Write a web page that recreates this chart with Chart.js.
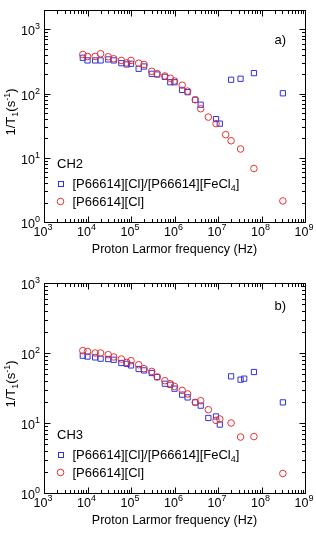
<!DOCTYPE html>
<html>
<head>
<meta charset="utf-8">
<script src="https://cdn.jsdelivr.net/npm/chart.js@4.4.1/dist/chart.umd.min.js"></script>
<style>
  html, body { margin: 0; padding: 0; background: #fff; }
  #wrap { position: relative; width: 316px; height: 537px; }
  canvas { position: absolute; left: 0; }
</style>
</head>
<body>
<div id="wrap">
  <canvas id="chartA" width="316" height="268" style="top:0"></canvas>
  <canvas id="chartB" width="316" height="269" style="top:268px"></canvas>
</div>
<script>
// Panel a) CH2
const freqMixCH2 = [7.8e3, 1e4, 1.5e4, 2e4, 3e4, 4e4, 6e4, 8e4, 1e5, 1.5e5, 2e5, 3e5, 4e5, 6e5, 8e5, 1e6, 1.5e6, 2e6, 3e6, 4e6, 9e6, 1.1e7, 2e7, 3.3e7, 6.7e7, 3.1e8]
const r1MixCH2 = [361, 328, 328, 328, 340, 328, 297, 284, 291, 243, 264, 203, 198, 182, 150, 150, 114, 105, 80, 67, 40, 34, 164, 170, 208, 101]
const freqClCH2 = [7.8e3, 1e4, 1.5e4, 2e4, 3e4, 4e4, 6e4, 8e4, 1e5, 1.5e5, 2e5, 3e5, 4e5, 6e5, 8e5, 1e6, 1.5e6, 2e6, 3e6, 4e6, 6e6, 9e6, 1.5e7, 2e7, 3.3e7, 6.7e7, 3.1e8]
const r1ClCH2 = [406, 378, 378, 417, 374, 348, 328, 300, 328, 297, 284, 222, 205, 188, 173, 157, 135, 109, 80, 58, 43, 34, 22.9, 18.4, 13.7, 6.8, 2.13]

// Panel b) CH3
const freqMixCH3 = [7.8e3, 1e4, 1.5e4, 2e4, 3e4, 4e4, 6e4, 8e4, 1e5, 1.5e5, 2e5, 3e5, 4e5, 6e5, 8e5, 1e6, 1.5e6, 2e6, 3e6, 4e6, 6e6, 9e6, 1.1e7, 2e7, 3.3e7, 4e7, 6.7e7, 3.1e8]
const r1MixCH3 = [91.5, 89, 86.5, 83, 82, 80, 72, 70, 66.5, 59, 56.4, 51.8, 45.4, 36.4, 35.2, 30.9, 25.4, 23.2, 19.7, 17.7, 11.8, 12.4, 9.5, 46.4, 41.6, 43, 53.5, 19.7]
const freqClCH3 = [7.8e3, 1e4, 1.5e4, 2e4, 3e4, 4e4, 6e4, 8e4, 1e5, 1.5e5, 2e5, 3e5, 4e5, 6e5, 8e5, 1e6, 1.5e6, 2e6, 3e6, 4e6, 6e6, 9e6, 1.1e7, 2e7, 3.3e7, 6.7e7, 3.1e8]
const r1ClCH3 = [108, 105, 100, 100, 94.6, 87.7, 82, 73.4, 77.6, 68, 59.7, 54.6, 45.4, 40.2, 36.4, 33.3, 29.2, 26, 19.7, 20.8, 15.5, 10.9, 11.4, 10, 6.3, 6.4, 1.9]

const xRange = [1e3, 1e9]
const seriesNames = ['[P66614][Cl]/[P66614][FeCl4]', '[P66614][Cl]']

const FONT = '"Liberation Sans", Arial, Helvetica, sans-serif'
const BLUE = '#3232dc'
const RED = '#e63232'

/**
 * Draw text made of parts with own size and vertical shift (sub/superscripts).
 */
function richText (ctx, parts, x, y, align) {
  let w = 0
  parts.forEach(p => { ctx.font = `${p[1]}px ${FONT}`; w += ctx.measureText(p[0]).width })
  let cx = align === 'center' ? x - w / 2 : align === 'right' ? x - w : x
  parts.forEach(p => {
    ctx.font = `${p[1]}px ${FONT}`
    ctx.fillText(p[0], cx, y + (p[2] || 0))
    cx += ctx.measureText(p[0]).width
  })
}

function logTicks (min, max) {
  const out = []
  for (let e = Math.floor(Math.log10(min)); e <= Math.ceil(Math.log10(max)); e++) {
    for (let m = 1; m <= 9; m++) {
      const v = m * Math.pow(10, e)
      if (v >= min * 0.999 && v <= max * 1.001) out.push({ v, major: m === 1, e })
    }
  }
  return out
}

// frame, inward ticks, labels and legend
const framePlugin = {
  id: 'frame',
  afterDraw (chart, args, opts) {
    const { ctx, chartArea: a, scales: { x, y } } = chart
    const L = Math.round(a.left) + 0.5
    const R = Math.round(a.right) + 0.5
    const T = Math.round(a.top) + 0.5
    const B = Math.round(a.bottom) + 0.5
    ctx.save()
    ctx.strokeStyle = '#000'
    ctx.fillStyle = '#000'
    ctx.lineWidth = 1
    ctx.strokeRect(L, T, R - L, B - T)

    ctx.beginPath()
    logTicks(x.min, x.max).forEach(t => {
      const px = Math.round(x.getPixelForValue(t.v)) + 0.5
      const len = t.major ? 6 : 3.5
      ctx.moveTo(px, B); ctx.lineTo(px, B - len)
      ctx.moveTo(px, T); ctx.lineTo(px, T + len)
    })
    logTicks(y.min, y.max).forEach(t => {
      const py = Math.round(y.getPixelForValue(t.v)) + 0.5
      const len = t.major ? 6 : 3.5
      ctx.moveTo(L, py); ctx.lineTo(L + len, py)
      ctx.moveTo(R, py); ctx.lineTo(R - len, py)
    })
    ctx.stroke()

    ctx.textBaseline = 'alphabetic'
    logTicks(x.min, x.max).filter(t => t.major).forEach(t => {
      richText(ctx, [['10', 12.5], [String(t.e), 9, -6]], x.getPixelForValue(t.v) - 1, a.bottom + 13.5, 'center')
    })
    logTicks(y.min, y.max).filter(t => t.major).forEach(t => {
      richText(ctx, [['10', 12.5], [String(t.e), 9, -6]], a.left - 4, y.getPixelForValue(t.v) + 6, 'right')
    })

    // axis titles
    richText(ctx, [['Proton Larmor frequency (Hz)', 12.5]], (a.left + a.right) / 2, a.bottom + 30.5, 'center')
    ctx.save()
    ctx.translate(15, (a.top + a.bottom) / 2 - 4)
    ctx.rotate(-Math.PI / 2)
    richText(ctx, [['1/T', 13], ['1', 9, 3], ['(s', 13], ['-1', 9, -5.5], [')', 13]], 0, 0, 'center')
    ctx.restore()

    // panel tag
    richText(ctx, [[opts.tag, 13]], a.right - 19, a.top + opts.tagY, 'right')

    // legend
    richText(ctx, [[opts.group, 13]], a.left + 13, a.bottom - 54.5)
    const sx = a.left + 16.5
    const y1 = a.bottom - 38.5
    const y2 = a.bottom - 20.5
    ctx.strokeStyle = BLUE
    ctx.strokeRect(Math.round(sx - 2.5) + 0.5, Math.round(y1 - 2.5) + 0.5, 5, 5)
    ctx.strokeStyle = RED
    ctx.beginPath()
    ctx.arc(sx, y2, 3.3, 0, Math.PI * 2)
    ctx.stroke()
    ctx.fillStyle = '#000'
    richText(ctx, [['[P66614][Cl]/[P66614][FeCl', 13], ['4', 9, 3], [']', 13]], a.left + 28.5, y1 + 4.5)
    richText(ctx, [[seriesNames[1], 13]], a.left + 28.5, y2 + 4.5)
    ctx.restore()
  }
}

function toPoints (xs, ys) {
  return xs.map((v, i) => ({ x: v, y: ys[i] }))
}

function makeChart (id, mixF, mixV, clF, clV, yMax, padding, group, tag, tagY) {
  const ctx = document.getElementById(id).getContext('2d')
  return new Chart(ctx, {
    type: 'scatter',
    data: {
      datasets: [{
        label: seriesNames[1],
        data: toPoints(clF, clV),
        pointStyle: 'circle',
        pointRadius: 3.3,
        pointBorderWidth: 1,
        borderColor: RED,
        backgroundColor: 'rgba(0,0,0,0)'
      },
      {
        label: seriesNames[0],
        data: toPoints(mixF, mixV),
        pointStyle: 'rect',
        pointRadius: 3.7,
        pointBorderWidth: 1,
        borderColor: BLUE,
        backgroundColor: 'rgba(0,0,0,0)'
      }]
    },
    options: {
      responsive: false,
      animation: false,
      layout: { padding },
      scales: {
        x: { type: 'logarithmic', min: xRange[0], max: xRange[1], display: false },
        y: { type: 'logarithmic', min: 1, max: yMax, display: false }
      },
      plugins: {
        legend: { display: false },
        tooltip: { enabled: false },
        frame: { group, tag, tagY }
      }
    },
    plugins: [framePlugin]
  })
}

makeChart('chartA', freqMixCH2, r1MixCH2, freqClCH2, r1ClCH2, 2000,
  { left: 44, right: 11, top: 10, bottom: 46 }, 'CH2', 'a)', 34)
makeChart('chartB', freqMixCH3, r1MixCH3, freqClCH3, r1ClCH3, 1000,
  { left: 44, right: 11, top: 15, bottom: 44 }, 'CH3', 'b)', 27)
</script>
</body>
</html>
